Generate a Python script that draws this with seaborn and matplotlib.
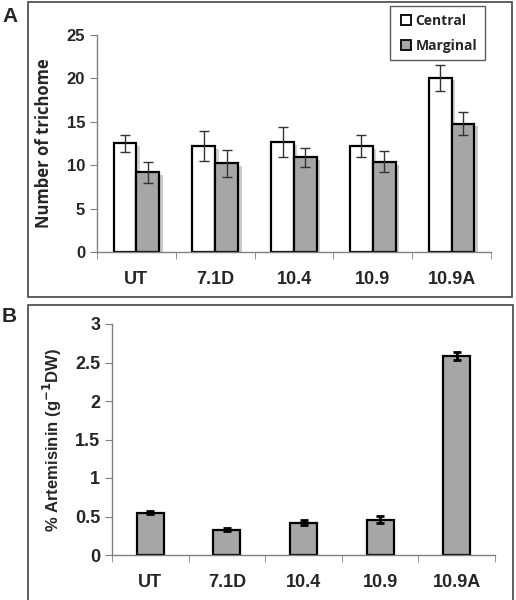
import numpy as np
import pandas as pd
import matplotlib
matplotlib.use("Agg")
import matplotlib.pyplot as plt
import matplotlib.patheffects as pe
from matplotlib.patches import Rectangle
from matplotlib.lines import Line2D
from matplotlib.ticker import FixedLocator, NullFormatter
import seaborn as sns

# data
lines = ["UT", "7.1D", "10.4", "10.9", "10.9A"]
central = [12.5, 12.2, 12.7, 12.2, 20.1]
central_err = [1.0, 1.7, 1.7, 1.3, 1.5]
marginal = [9.2, 10.2, 10.9, 10.4, 14.8]
marginal_err = [1.2, 1.6, 1.1, 1.2, 1.3]
artemisinin = [0.55, 0.33, 0.42, 0.46, 2.58]
artemisinin_err = [0.02, 0.02, 0.03, 0.05, 0.05]

sns.set_style("white")
plt.rcParams["font.family"] = ["Liberation Sans", "DejaVu Sans"]
plt.rcParams["font.weight"] = "bold"

fig = plt.figure(figsize=(5.16, 6.0), dpi=100)

# panel frames
fig.patches.append(Rectangle((28/516, 1-297/600), 484/516, 295/600, transform=fig.transFigure,
                             fill=False, edgecolor="#444444", linewidth=1.2))
fig.patches.append(Rectangle((28/516, -0.05), 485/516, 0.05+1-305/600, transform=fig.transFigure,
                             fill=False, edgecolor="#444444", linewidth=1.2))
fig.text(2/516, 1-22/600, "A", fontsize=15, fontweight="bold")
fig.text(2/516, 1-322/600, "B", fontsize=15, fontweight="bold")


def style_axis(ax, n, size):
    sns.despine(ax=ax)
    for s in ["left", "bottom"]:
        ax.spines[s].set_color("#808080")
        ax.spines[s].set_linewidth(1.0)
    ax.set_xlim(-0.5, n - 0.5)
    ax.xaxis.set_minor_locator(FixedLocator(np.arange(n + 1) - 0.5))
    ax.xaxis.set_minor_formatter(NullFormatter())
    ax.tick_params(axis="x", which="major", length=0, pad=14)
    ax.tick_params(axis="x", which="minor", length=5, color="#808080", direction="out", bottom=True)
    ax.tick_params(axis="y", length=5, color="#808080", direction="out", left=True)
    ax.set_xlabel("")
    for t in ax.get_xticklabels() + ax.get_yticklabels():
        t.set_fontweight("bold")
        t.set_fontsize(size)


# panel A
axA = fig.add_axes([97/516, 1-252/600, 394/516, 217/600])
dfA = pd.DataFrame({
    "line": lines * 2,
    "type": ["Central"] * 5 + ["Marginal"] * 5,
    "count": central + marginal,
})
sns.barplot(data=dfA, x="line", y="count", hue="type", order=lines,
            palette=["white", "#a6a6a6"], edgecolor="black", linewidth=1.6,
            width=0.58, gap=0, errorbar=None, ax=axA, legend=False)
errs = central_err + marginal_err
for p, e in zip(axA.patches, errs):
    p.set_path_effects([pe.SimplePatchShadow(offset=(2.5, -2), alpha=0.25), pe.Normal()])
    axA.errorbar(p.get_x() + p.get_width()/2, p.get_height(), yerr=e, fmt="none",
                 ecolor="#333333", elinewidth=1.0, capsize=3.5, capthick=1.0)
axA.set_ylim(0, 25)
axA.set_yticks([0, 5, 10, 15, 20, 25])
style_axis(axA, 5, 12)
axA.set_ylabel("Number of trichome", fontsize=12, fontweight="bold",
               family=["Open Sans", "DejaVu Sans"], labelpad=10)
for t in axA.get_xticklabels():
    t.set_fontsize(13)

handles = [Line2D([0], [0], marker="s", color="w", markerfacecolor=c, markeredgecolor="black",
                  markeredgewidth=1.3, markersize=7, linestyle="none")
           for c in ["white", "#a6a6a6"]]
leg = fig.legend(handles, ["Central", "Marginal"], loc="upper left",
                 bbox_to_anchor=(390/516, 1-6/600), frameon=True, fancybox=False,
                 edgecolor="#333333", handletextpad=0.1, handlelength=1.2,
                 labelspacing=0.8, borderpad=0.55, borderaxespad=0,
                 prop={"family": ["Open Sans", "DejaVu Sans"], "weight": "bold", "size": 10})
leg.get_frame().set_linewidth(1.0)

# panel B
axB = fig.add_axes([112/516, 1-555/600, 383/516, 231/600])
dfB = pd.DataFrame({"line": lines, "art": artemisinin})
sns.barplot(data=dfB, x="line", y="art", order=lines, color="#a6a6a6",
            edgecolor="black", linewidth=1.6, width=0.35, errorbar=None, ax=axB)
for p, e in zip(axB.patches, artemisinin_err):
    axB.errorbar(p.get_x() + p.get_width()/2, p.get_height(), yerr=e, fmt="none",
                 ecolor="black", elinewidth=2.0, capsize=3, capthick=2.0)
axB.set_ylim(0, 3)
axB.set_yticks([0, 0.5, 1, 1.5, 2, 2.5, 3])
axB.set_yticklabels(["0", "0.5", "1", "1.5", "2", "2.5", "3"])
style_axis(axB, 5, 13)
axB.set_ylabel("% Artemisinin (g$^{\\mathbf{-1}}$DW)", fontsize=12, fontweight="bold", labelpad=8)

fig.savefig("out.png", dpi=100)
